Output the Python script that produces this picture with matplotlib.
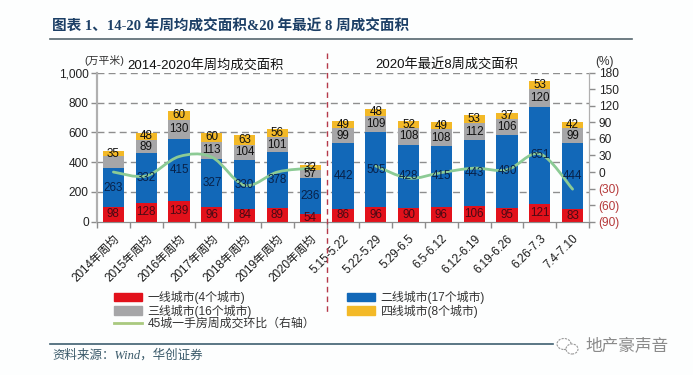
import matplotlib
matplotlib.use("Agg")
import matplotlib.pyplot as plt
from matplotlib.path import Path
from matplotlib.patches import PathPatch, Patch, Ellipse
from matplotlib.lines import Line2D
from matplotlib.transforms import blended_transform_factory

LATIN = ['Liberation Sans', 'Noto Sans CJK SC']
plt.rcParams['font.family'] = LATIN
plt.rcParams['axes.unicode_minus'] = False

categories = ['2014年周均', '2015年周均', '2016年周均', '2017年周均', '2018年周均',
              '2019年周均', '2020年周均', '5.15-5.22', '5.22-5.29', '5.29-6.5',
              '6.5-6.12', '6.12-6.19', '6.19-6.26', '6.26-7.3', '7.4-7.10']
tier1 = [98, 128, 139, 96, 84, 89, 54, 86, 96, 90, 96, 106, 95, 121, 83]
tier2 = [263, 332, 415, 327, 330, 378, 236, 442, 505, 428, 415, 443, 490, 651, 444]
tier3 = [78, 89, 130, 113, 104, 101, 57, 99, 109, 108, 108, 112, 106, 120, 99]
tier4 = [35, 48, 60, 60, 63, 56, 32, 49, 48, 52, 49, 53, 37, 53, 42]
unlabelled_tier3 = [0]
wow_annual_x = [0, 1, 2, 3, 4, 5, 6]
wow_annual = [0, -7, 28, 27, -24, 0, 7]
wow_weekly_x = [8, 9, 10, 11, 12, 13, 14]
wow_weekly = [11, -11, -1, 7, 4, 33, -31]
y_ticks = [0, 200, 400, 600, 800, 1000]
y_labels = ['0', '200', '400', '600', '800', '1,000']
r_ticks = [-90, -60, -30, 0, 30, 60, 90, 120, 150, 180]
r_labels = ['(90)', '(60)', '(30)', '0', '30', '60', '90', '120', '150', '180']

RED, BLUE, GRAY, GOLD = '#E2111B', '#1268B8', '#A6A6A8', '#F3B927'
GREEN = '#8CCB95'
NAVY = '#1C3F66'
W, H = 693, 375

fig = plt.figure(figsize=(W / 100, H / 100), dpi=100, facecolor='#FDFEFE')
ax = fig.add_axes([97 / W, 1 - 221.7 / H, 492 / W, 149 / H])
ax.patch.set_alpha(0)
ax2 = ax.twinx()
ax2.set_zorder(0)
ax.set_zorder(1)

x = list(range(len(categories)))
width = 0.65
ax.grid(False)
for t in y_ticks[1:]:
    ax.axhline(t, color='#8E8E8E', lw=1, ls=(0, (5, 3)), zorder=0)

bottom = [0] * len(x)
series = [(tier1, RED, '#4A0A14'), (tier2, BLUE, '#08224A'), (tier3, GRAY, '#111111'), (tier4, GOLD, '#111111')]
for k, (vals, col, tcol) in enumerate(series):
    ax.bar(x, vals, width, bottom=bottom, color=col, zorder=2)
    for i, v in enumerate(vals):
        if k == 2 and i in unlabelled_tier3:
            continue
        ax.text(i, bottom[i] + v / 2, str(v), ha='center', va='center', fontsize=8.4,
                color=tcol, zorder=5)
    bottom = [b + v for b, v in zip(bottom, vals)]

ax.set_xlim(-0.5, 14.5)
ax.set_ylim(0, 1000)
ax2.set_ylim(-90, 180)


def smooth_path(xs, ys):
    verts = [(xs[0], ys[0])]
    codes = [Path.MOVETO]
    n = len(xs)
    for i in range(n - 1):
        p0 = (xs[max(i - 1, 0)], ys[max(i - 1, 0)])
        p1 = (xs[i], ys[i])
        p2 = (xs[i + 1], ys[i + 1])
        p3 = (xs[min(i + 2, n - 1)], ys[min(i + 2, n - 1)])
        c1 = (p1[0] + (p2[0] - p0[0]) / 6, p1[1] + (p2[1] - p0[1]) / 6)
        c2 = (p2[0] - (p3[0] - p1[0]) / 6, p2[1] - (p3[1] - p1[1]) / 6)
        verts += [c1, c2, p2]
        codes += [Path.CURVE4] * 3
    return Path(verts, codes)


for xs, ys in [(wow_annual_x, wow_annual), (wow_weekly_x, wow_weekly)]:
    ax.add_patch(PathPatch(smooth_path(xs, ys), fc='none', ec=GREEN, lw=2,
                           transform=ax2.transData, zorder=3, capstyle='round'))

ax.set_yticks(y_ticks, y_labels, fontsize=8.6, color='#222222')
ax.set_xticks([i - 0.5 for i in range(16)], minor=False)
ax.set_xticklabels([])
ax.set_xticks(x, categories, minor=True, rotation=45, ha='right', rotation_mode='anchor',
              fontsize=8.4, color='#1A1A1A')
ax.tick_params(axis='x', which='major', length=4, color='#8C8C8C', width=1)
ax.tick_params(axis='x', which='minor', length=0, pad=8)
ax.tick_params(axis='y', length=4, color='#8C8C8C', width=1, pad=2)
ax2.set_yticks(r_ticks, r_labels, fontsize=8.6)
ax2.tick_params(axis='y', length=4, color='#8C8C8C', width=1, pad=3)
for lab, t in zip(ax2.get_yticklabels(), r_ticks):
    lab.set_color('#B5393A' if t < 0 else '#222222')

for a in (ax, ax2):
    for s in ('top',):
        a.spines[s].set_visible(False)
    a.spines['bottom'].set_color('#8C8C8C')
    a.spines['left'].set_color('#B0B0B0')
    a.spines['right'].set_color('#B0B0B0')
    a.spines['left'].set_linewidth(1.5)

tr = blended_transform_factory(ax.transData, ax.transAxes)
ax.plot([6.5, 6.5], [1.13, -0.62], color='#B5394A', lw=1, ls=(0, (4, 3)), transform=tr,
        clip_on=False, zorder=6)


def px(xp, yp):
    return xp / W, 1 - yp / H


fig.text(*px(206, 65), '2014-2020年周均成交面积', ha='center', va='center', fontsize=9.5, color='#111111')
fig.text(*px(447, 65), '2020年最近8周成交面积', ha='center', va='center', fontsize=9.5, color='#111111')
fig.text(*px(84, 60), '(万平米)', ha='left', va='center', fontsize=7.8, color='#333333')
fig.text(*px(604, 62), '(%)', ha='center', va='center', fontsize=8.6, color='#333333')

fig.text(*px(52, 27), '图表 1、14-20 年周均成交面积&20 年最近 8 周成交面积', ha='left', va='center',
         fontsize=10.5, fontweight='bold', color=NAVY,
         family=['Liberation Serif', 'Noto Sans CJK SC'])
fig.add_artist(Line2D([50 / W, 632 / W], [1 - 39 / H] * 2, color='#56666E', lw=1.2))
fig.add_artist(Line2D([50 / W, 553 / W], [1 - 343.5 / H] * 2, color='#3F5F70', lw=1.2))
fig.text(*px(52, 355.5), '资料来源：Wind，华创证券', ha='left', va='center', fontsize=9, style='italic',
         color='#3A5A6A', family=['Liberation Serif', 'Noto Sans CJK SC'])

handles = [Patch(color=RED), Patch(color=GRAY), Line2D([], [], color='#A9C97F', lw=2),
           Patch(color=BLUE), Patch(color=GOLD)]
labels = ['一线城市(4个城市)', '三线城市(16个城市)', '45城一手房周成交环比（右轴）',
          '二线城市(17个城市)', '四线城市(8个城市)']
fig.legend(handles, labels, ncol=2, loc='upper left', bbox_to_anchor=(114 / W, 1 - 291 / H),
           frameon=False, fontsize=8.6, handlelength=2.35, handleheight=0.75, handletextpad=0.45,
           labelspacing=0.02, columnspacing=2.7, labelcolor='#333333', borderpad=0, borderaxespad=0)

fig.text(*px(627, 345), '地产豪声音', ha='center', va='center', fontsize=12, color='#8A8A8A',
         zorder=5)
for cx, cy, w_, h_ in [(564, 344, 14, 11), (572, 349, 12, 10)]:
    fig.add_artist(Ellipse(px(cx, cy), w_ / W, h_ / H, transform=fig.transFigure, fc='white',
                           ec='#9A9A9A', lw=0.8, ls=(0, (2, 1))))

fig.savefig('out.png', dpi=100, facecolor=fig.get_facecolor())
